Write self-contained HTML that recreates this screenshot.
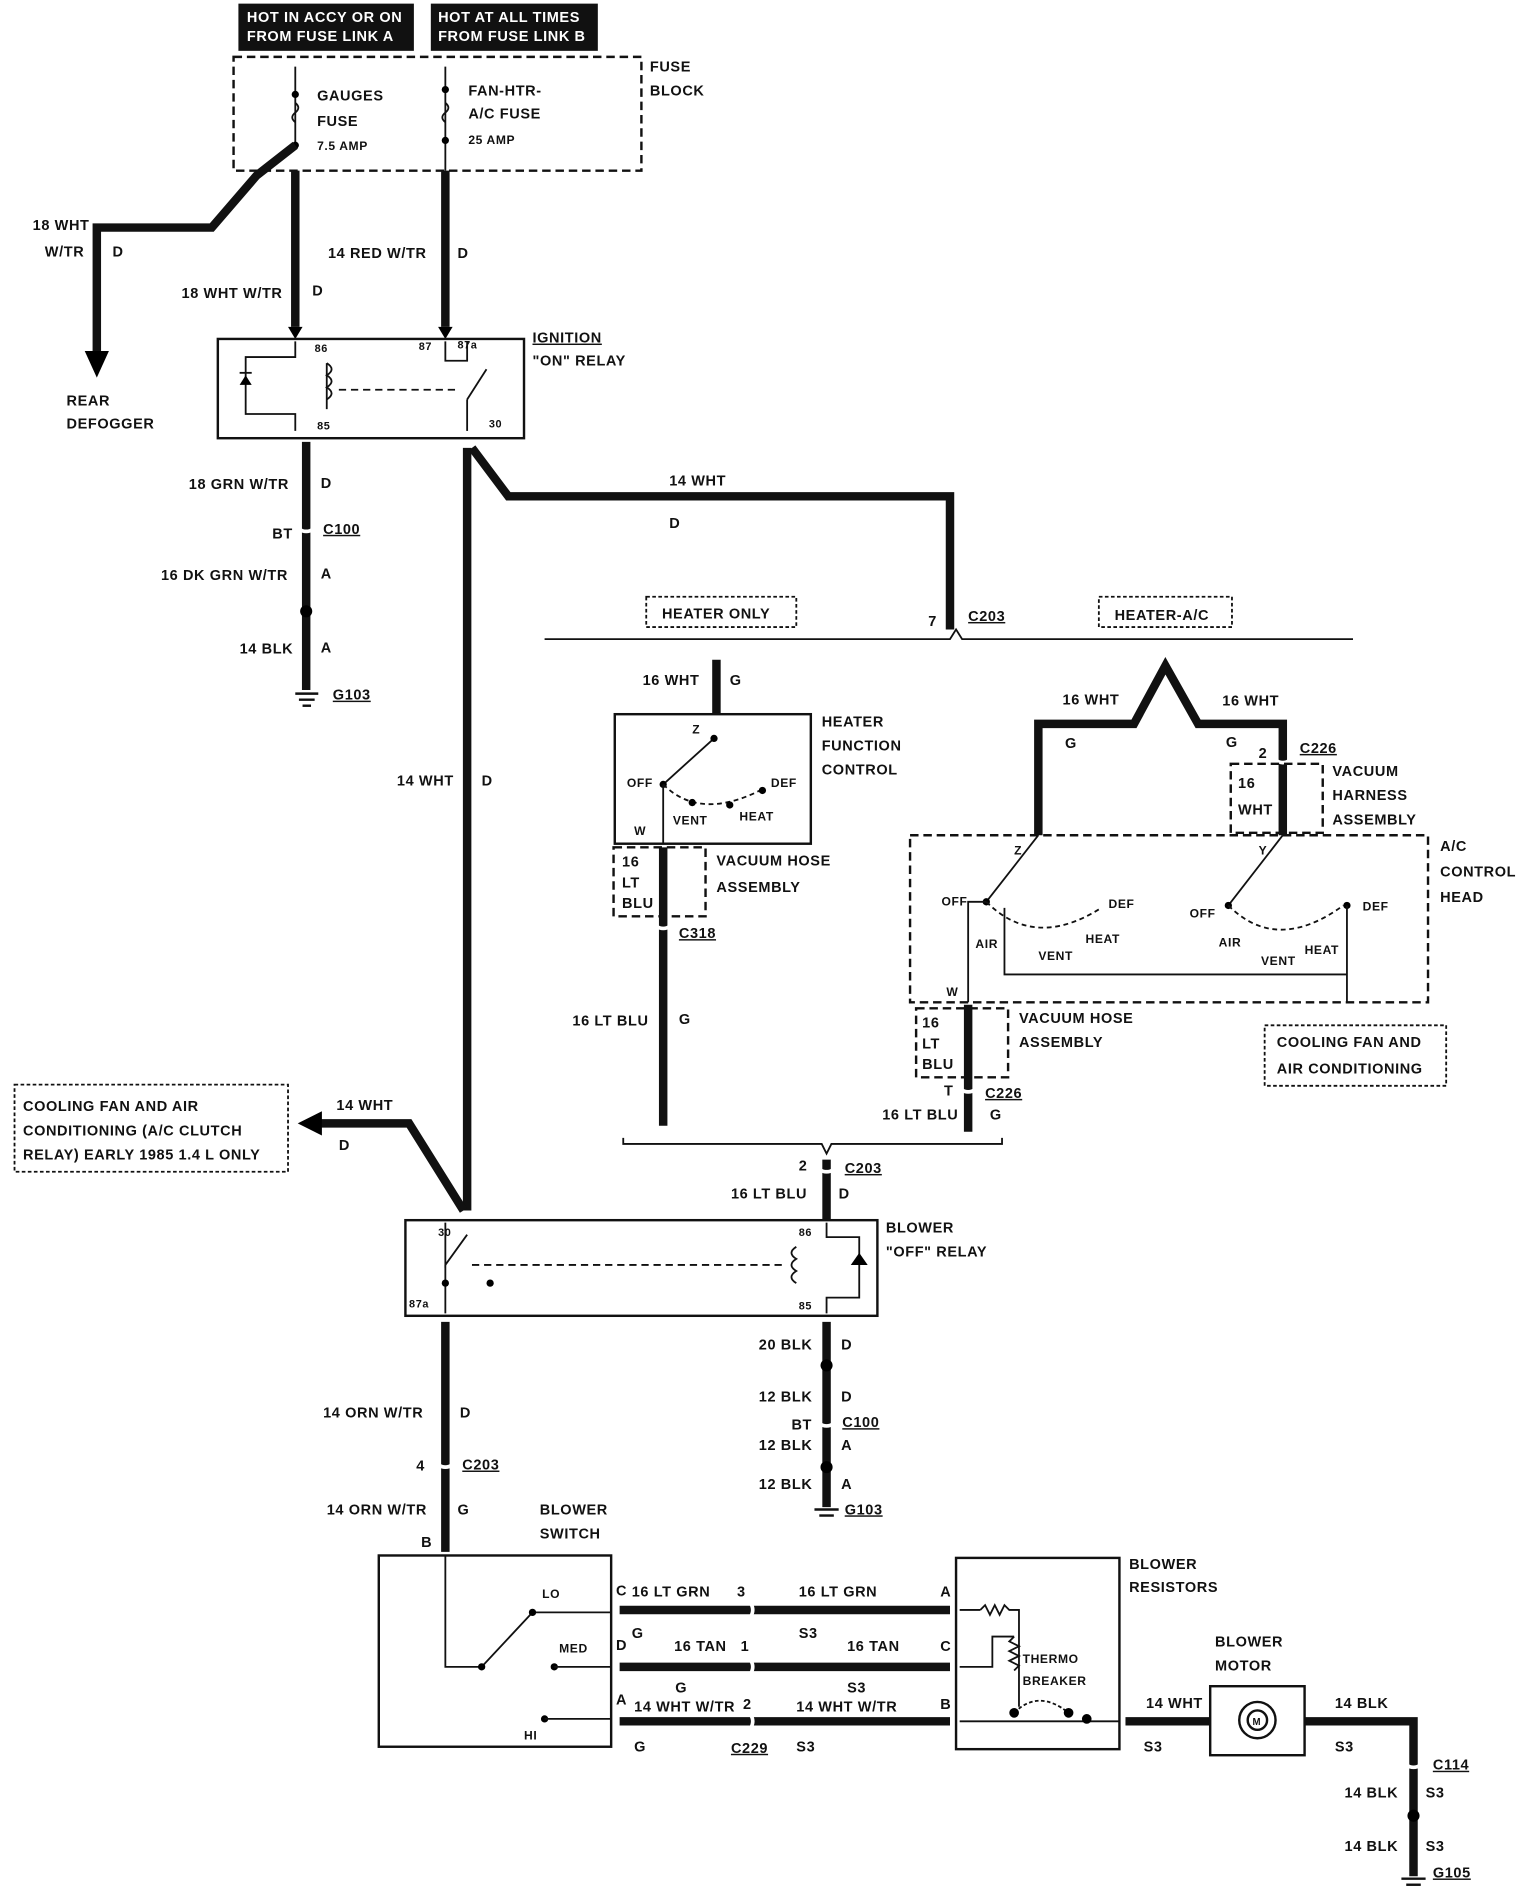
<!DOCTYPE html>
<html><head><meta charset="utf-8"><style>
html,body{margin:0;padding:0;background:#fff;}
svg{display:block;}
text{font-family:"Liberation Sans",sans-serif;font-weight:bold;font-size:12px;fill:#111;letter-spacing:0.5px;}
.w{stroke:#111;stroke-width:7;fill:none;}
.t{stroke:#111;stroke-width:1.5;fill:none;}
.d{stroke:#111;stroke-width:2;fill:none;stroke-dasharray:7,4;}
.b{stroke:#111;stroke-width:2;fill:none;}
.u{text-decoration:underline;}
.c{stroke:#fff;stroke-width:3;fill:none;}
</style></head><body>
<svg width="1520" height="1892" viewBox="0 0 1256 1563" preserveAspectRatio="none" xmlns="http://www.w3.org/2000/svg">
<rect x="197" y="3" width="145" height="39" fill="#111"/>
<rect x="356" y="3" width="138" height="39" fill="#111"/>
<text x="204" y="18" style="fill:#fff">HOT IN ACCY OR ON</text>
<text x="204" y="34" style="fill:#fff">FROM FUSE LINK A</text>
<text x="362" y="18" style="fill:#fff">HOT AT ALL TIMES</text>
<text x="362" y="34" style="fill:#fff">FROM FUSE LINK B</text>
<rect class="d" x="193" y="47" width="337" height="94"/>
<text x="537" y="59">FUSE</text><text x="537" y="79">BLOCK</text>
<text x="262" y="83">GAUGES</text><text x="262" y="104">FUSE</text><text x="262" y="124" style="font-size:10px">7.5 AMP</text>
<text x="387" y="79">FAN-HTR-</text><text x="387" y="98">A/C FUSE</text><text x="387" y="119" style="font-size:10px">25 AMP</text>
<line class="t" x1="244" y1="55" x2="244" y2="120"/><line class="t" x1="368" y1="55" x2="368" y2="141"/>
<path class="t" d="M244,85 q5,4 0,8 q-5,4 0,8"/><path class="t" d="M368,85 q5,4 0,8 q-5,4 0,8"/>
<circle cx="244" cy="78" r="3"/><circle cx="244" cy="120" r="3"/><circle cx="368" cy="74" r="3"/><circle cx="368" cy="116" r="3"/>
<polyline class="w" points="244,120 212,145 175,188 80,188 80,295"/>
<polygon points="70,290 90,290 80,312"/>
<polyline class="w" points="244,141 244,270"/>
<polyline class="w" points="368,141 368,270"/>
<polygon points="238,270 250,270 244,280"/><polygon points="362,270 374,270 368,280"/>
<text x="27" y="190">18 WHT</text><text x="37" y="212">W/TR</text><text x="93" y="212">D</text>
<text x="150" y="246">18 WHT W/TR</text><text x="258" y="244">D</text>
<text x="271" y="213">14 RED W/TR</text><text x="378" y="213">D</text>
<text x="55" y="335">REAR</text><text x="55" y="354">DEFOGGER</text>
<rect class="b" x="180" y="280" width="253" height="82"/>
<text x="440" y="283" class="u">IGNITION</text><text x="440" y="302">"ON" RELAY</text>
<polyline class="t" points="244,282 244,295 203,295 203,342 244,342 244,356"/>
<polygon points="198,318 208,318 203,310"/><line class="t" x1="198" y1="308" x2="208" y2="308"/>
<polyline class="t" points="270,300 270,338"/>
<path class="t" d="M270,300 q8,5 0,10 q8,5 0,10 q8,5 0,10"/>
<line class="t" x1="280" y1="322" x2="380" y2="322" stroke-dasharray="6,4"/>
<polyline class="t" points="368,282 368,298 386,298 386,282"/>
<line class="t" x1="386" y1="356" x2="386" y2="330"/><line class="t" x1="386" y1="330" x2="402" y2="305"/>
<text x="260" y="291" style="font-size:9px">86</text><text x="346" y="289" style="font-size:9px">87</text><text x="378" y="288" style="font-size:9px">87a</text>
<text x="262" y="355" style="font-size:9px">85</text><text x="404" y="353" style="font-size:9px">30</text>
<polyline class="w" points="253,365 253,570"/>
<path class="c" d="M247,437 q6,4 12,0"/><circle cx="253" cy="505" r="5"/>
<text x="156" y="404">18 GRN W/TR</text><text x="265" y="403">D</text>
<text x="225" y="445">BT</text><text x="267" y="441" class="u">C100</text>
<text x="133" y="479">16 DK GRN W/TR</text><text x="265" y="478">A</text>
<text x="198" y="540">14 BLK</text><text x="265" y="539">A</text>
<line class="b" x1="244" y1="573" x2="263" y2="573"/><line class="b" x1="247" y1="578" x2="260" y2="578"/><line class="b" x1="250" y1="583" x2="257" y2="583"/>
<text x="275" y="578" class="u">G103</text>
<polyline class="w" points="386,370 386,1000"/>
<polyline class="w" points="390,370 420,410 785,410 785,520"/>
<text x="553" y="401">14 WHT</text><text x="553" y="436">D</text>
<text x="328" y="649">14 WHT</text><text x="398" y="649">D</text>
<text x="767" y="517">7</text><text x="800" y="513" class="u">C203</text>
<polyline class="t" points="450,528 785,528 790,520 795,528 1118,528"/>
<rect class="t" x="534" y="493" width="124" height="25" stroke-dasharray="3,2"/><text x="547" y="511">HEATER ONLY</text>
<rect class="t" x="908" y="493" width="110" height="25" stroke-dasharray="3,2"/><text x="921" y="512">HEATER-A/C</text>
<polyline class="w" points="592,545 592,590"/>
<text x="531" y="566">16 WHT</text><text x="603" y="566">G</text>
<rect class="b" x="508" y="590" width="162" height="107"/>
<text x="679" y="600">HEATER</text><text x="679" y="620">FUNCTION</text><text x="679" y="640">CONTROL</text>
<text x="572" y="606" style="font-size:10px">Z</text><text x="518" y="650" style="font-size:10px">OFF</text><text x="637" y="650" style="font-size:10px">DEF</text>
<text x="556" y="681" style="font-size:10px">VENT</text><text x="611" y="678" style="font-size:10px">HEAT</text><text x="524" y="690" style="font-size:10px">W</text>
<line class="t" x1="548" y1="648" x2="590" y2="610"/><circle cx="590" cy="610" r="3"/><circle cx="548" cy="648" r="3"/>
<path class="t" d="M548,648 q30,30 80,5" stroke-dasharray="4,3"/><circle cx="630" cy="653" r="3"/><circle cx="572" cy="663" r="3"/><circle cx="603" cy="665" r="3"/>
<line class="t" x1="548" y1="648" x2="548" y2="697"/>
<rect class="d" x="507" y="700" width="76" height="57"/>
<polyline class="w" points="548,700 548,930"/>
<path class="c" d="M542,765 q6,4 12,0"/>
<text x="514" y="716">16</text><text x="514" y="733">LT</text><text x="514" y="750">BLU</text>
<text x="592" y="715">VACUUM HOSE</text><text x="592" y="737">ASSEMBLY</text>
<text x="561" y="775" class="u">C318</text>
<text x="473" y="847">16 LT BLU</text><text x="561" y="846">G</text>
<polyline class="w" points="858,690 858,598 937,598 963,550 990,598 1060,598 1060,690"/>
<path class="c" d="M1054,628 q6,4 12,0"/>
<text x="878" y="582">16 WHT</text><text x="1010" y="583">16 WHT</text>
<text x="880" y="618">G</text><text x="1013" y="617">G</text>
<text x="1040" y="626">2</text><text x="1074" y="622" class="u">C226</text>
<rect class="d" x="1017" y="631" width="76" height="57"/>
<text x="1023" y="651">16</text><text x="1023" y="673">WHT</text>
<text x="1101" y="641">VACUUM</text><text x="1101" y="661">HARNESS</text><text x="1101" y="681">ASSEMBLY</text>
<rect class="d" x="752" y="690" width="428" height="138"/>
<text x="1190" y="703">A/C</text><text x="1190" y="724">CONTROL</text><text x="1190" y="745">HEAD</text>
<text x="838" y="706" style="font-size:10px">Z</text><text x="1040" y="706" style="font-size:10px">Y</text>
<line class="t" x1="858" y1="690" x2="815" y2="745"/><line class="t" x1="1060" y1="690" x2="1015" y2="748"/>
<circle cx="815" cy="745" r="3"/><circle cx="1015" cy="748" r="3"/><circle cx="1113" cy="748" r="3"/>
<text x="778" y="748" style="font-size:10px">OFF</text><text x="916" y="750" style="font-size:10px">DEF</text>
<text x="806" y="783" style="font-size:10px">AIR</text><text x="858" y="793" style="font-size:10px">VENT</text><text x="897" y="779" style="font-size:10px">HEAT</text>
<text x="983" y="758" style="font-size:10px">OFF</text><text x="1126" y="752" style="font-size:10px">DEF</text>
<text x="1007" y="782" style="font-size:10px">AIR</text><text x="1042" y="797" style="font-size:10px">VENT</text><text x="1078" y="788" style="font-size:10px">HEAT</text>
<path class="t" d="M815,745 q40,40 95,5" stroke-dasharray="4,3"/><path class="t" d="M1015,748 q40,40 95,0" stroke-dasharray="4,3"/>
<polyline class="t" points="800,828 800,745 815,745"/><polyline class="t" points="830,750 830,805 1113,805"/><polyline class="t" points="1113,748 1113,828"/>
<text x="782" y="823" style="font-size:10px">W</text>
<rect class="d" x="757" y="833" width="76" height="57"/>
<polyline class="w" points="800,830 800,935"/>
<path class="c" d="M794,900 q6,4 12,0"/>
<text x="762" y="849">16</text><text x="762" y="866">LT</text><text x="762" y="883">BLU</text>
<text x="842" y="845">VACUUM HOSE</text><text x="842" y="865">ASSEMBLY</text>
<rect class="t" x="1045" y="847" width="150" height="50" stroke-dasharray="3,2"/>
<text x="1055" y="865">COOLING FAN AND</text><text x="1055" y="887">AIR CONDITIONING</text>
<text x="780" y="905">T</text><text x="814" y="907" class="u">C226</text>
<text x="729" y="925">16 LT BLU</text><text x="818" y="925">G</text>
<polyline class="t" points="515,940 515,945 679,945 683,953 687,945 828,945 828,940"/>
<polyline class="w" points="683,958 683,1008"/>
<path class="c" d="M677,966 q6,4 12,0"/>
<text x="660" y="967">2</text><text x="698" y="969" class="u">C203</text>
<text x="604" y="990">16 LT BLU</text><text x="693" y="990">D</text>
<rect class="t" x="12" y="896" width="226" height="72" stroke-dasharray="3,2"/>
<text x="19" y="918">COOLING FAN AND AIR</text><text x="19" y="938">CONDITIONING (A/C CLUTCH</text><text x="19" y="958">RELAY) EARLY 1985 1.4 L ONLY</text>
<polyline class="w" points="383,1000 338,928 262,928"/><polygon points="266,918 266,938 246,928"/>
<text x="278" y="917">14 WHT</text><text x="280" y="950">D</text>
<rect class="b" x="335" y="1008" width="390" height="79"/>
<text x="732" y="1018">BLOWER</text><text x="732" y="1038">"OFF" RELAY</text>
<text x="362" y="1021" style="font-size:9px">30</text><text x="338" y="1080" style="font-size:9px">87a</text>
<polyline class="t" points="368,1010 368,1045 386,1020"/><line class="t" x1="368" y1="1045" x2="368" y2="1085"/><circle cx="368" cy="1060" r="3"/><circle cx="405" cy="1060" r="3"/>
<line class="t" x1="390" y1="1045" x2="650" y2="1045" stroke-dasharray="6,4"/>
<polyline class="t" points="683,1010 683,1022 710,1022 710,1072 683,1072 683,1085"/>
<path class="t" d="M658,1030 q-8,5 0,10 q-8,5 0,10 q-8,5 0,10"/>
<polygon points="703,1045 717,1045 710,1035"/>
<text x="660" y="1021" style="font-size:9px">86</text><text x="660" y="1082" style="font-size:9px">85</text>
<polyline class="w" points="683,1092 683,1245"/>
<circle cx="683" cy="1128" r="5"/><path class="c" d="M677,1176 q6,4 12,0"/><circle cx="683" cy="1212" r="5"/>
<text x="627" y="1115">20 BLK</text><text x="695" y="1115">D</text>
<text x="627" y="1158">12 BLK</text><text x="695" y="1158">D</text>
<text x="654" y="1181">BT</text><text x="696" y="1179" class="u">C100</text>
<text x="627" y="1198">12 BLK</text><text x="695" y="1198">A</text>
<text x="627" y="1230">12 BLK</text><text x="695" y="1230">A</text>
<line class="b" x1="673" y1="1247" x2="693" y2="1247"/><line class="b" x1="677" y1="1252" x2="689" y2="1252"/>
<text x="698" y="1251" class="u">G103</text>
<polyline class="w" points="368,1092 368,1282"/>
<path class="c" d="M362,1210 q6,4 12,0"/>
<text x="267" y="1171">14 ORN W/TR</text><text x="380" y="1171">D</text>
<text x="344" y="1215">4</text><text x="382" y="1214" class="u">C203</text>
<text x="270" y="1251">14 ORN W/TR</text><text x="378" y="1251">G</text>
<text x="348" y="1278">B</text>
<text x="446" y="1251">BLOWER</text><text x="446" y="1271">SWITCH</text>
<rect class="b" x="313" y="1285" width="192" height="158"/>
<polyline class="t" points="368,1285 368,1377 398,1377 440,1332 505,1332"/>
<circle cx="398" cy="1377" r="3"/><circle cx="440" cy="1332" r="3"/><circle cx="458" cy="1377" r="3"/><circle cx="450" cy="1420" r="3"/>
<line class="t" x1="458" y1="1377" x2="505" y2="1377"/><line class="t" x1="450" y1="1420" x2="505" y2="1420"/>
<text x="448" y="1320" style="font-size:10px">LO</text><text x="462" y="1365" style="font-size:10px">MED</text><text x="433" y="1437" style="font-size:10px">HI</text>
<text x="509" y="1318">C</text><text x="509" y="1363">D</text><text x="509" y="1408">A</text>
<polyline class="w" points="512,1330 785,1330"/><polyline class="w" points="512,1377 785,1377"/><polyline class="w" points="512,1422 785,1422"/>
<path class="c" d="M620,1324 q4,6 0,12"/><path class="c" d="M620,1371 q4,6 0,12"/><path class="c" d="M620,1416 q4,6 0,12"/>
<text x="522" y="1319">16 LT GRN</text><text x="609" y="1319">3</text><text x="660" y="1319">16 LT GRN</text><text x="777" y="1319">A</text>
<text x="522" y="1353">G</text><text x="660" y="1353">S3</text>
<text x="557" y="1364">16 TAN</text><text x="612" y="1364">1</text><text x="700" y="1364">16 TAN</text><text x="777" y="1364">C</text>
<text x="558" y="1398">G</text><text x="700" y="1398">S3</text>
<text x="524" y="1414">14 WHT W/TR</text><text x="614" y="1412">2</text><text x="658" y="1414">14 WHT W/TR</text><text x="777" y="1412">B</text>
<text x="524" y="1447">G</text><text x="604" y="1448" class="u">C229</text><text x="658" y="1447">S3</text>
<rect class="b" x="790" y="1287" width="135" height="158"/>
<text x="933" y="1296">BLOWER</text><text x="933" y="1315">RESISTORS</text>
<text x="845" y="1374" style="font-size:10px">THERMO</text><text x="845" y="1392" style="font-size:10px">BREAKER</text>
<polyline class="t" points="793,1330 810,1330"/><path class="t" d="M810,1330 l4,-4 4,8 4,-8 4,8 4,-8 4,4 l8,0 0,80"/>
<polyline class="t" points="793,1377 820,1377 820,1352 838,1352"/><path class="t" d="M838,1352 l-4,4 8,4 -8,4 8,4 -8,4 8,4 -4,4"/>
<path class="t" d="M838,1415 q20,-20 45,0" stroke-dasharray="3,2"/><circle cx="838" cy="1415" r="4"/><circle cx="883" cy="1415" r="4"/>
<polyline class="t" points="793,1422 925,1422"/><circle cx="898" cy="1420" r="4"/>
<polyline class="w" points="930,1422 1000,1422"/><polyline class="w" points="1078,1422 1168,1422 1168,1550"/>
<path class="c" d="M1162,1458 q6,4 12,0"/><circle cx="1168" cy="1500" r="5"/>
<text x="947" y="1411">14 WHT</text><text x="945" y="1447">S3</text>
<rect class="b" x="1000" y="1393" width="78" height="57"/>
<circle cx="1039" cy="1421" r="15" class="b"/><circle cx="1039" cy="1421" r="8" class="b"/><text x="1035" y="1425" style="font-size:8px">M</text>
<text x="1004" y="1360">BLOWER</text><text x="1004" y="1380">MOTOR</text>
<text x="1103" y="1411">14 BLK</text><text x="1103" y="1447">S3</text>
<text x="1184" y="1462" class="u">C114</text>
<text x="1111" y="1485">14 BLK</text><text x="1178" y="1485">S3</text>
<text x="1111" y="1529">14 BLK</text><text x="1178" y="1529">S3</text>
<line class="b" x1="1158" y1="1552" x2="1178" y2="1552"/><line class="b" x1="1162" y1="1557" x2="1174" y2="1557"/>
<text x="1184" y="1551" class="u">G105</text>
</svg>
</body></html>
